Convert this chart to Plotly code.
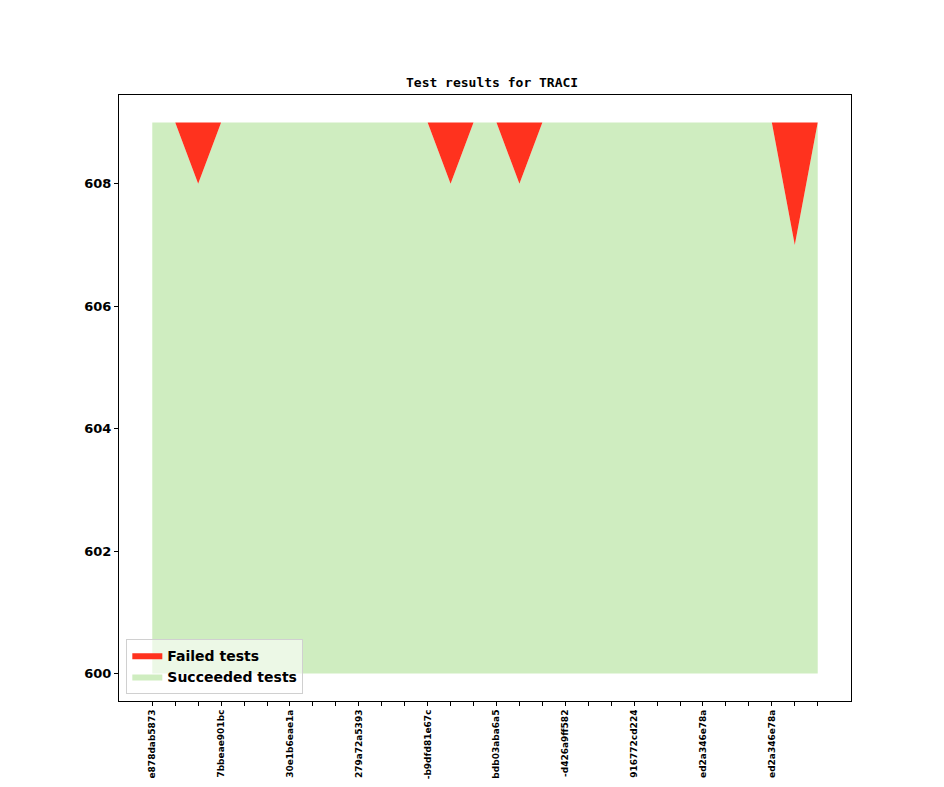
import plotly.graph_objects as go

commits = list(range(30))
succeeded = [609, 609, 608, 609, 609, 609, 609, 609, 609, 609,
             609, 609, 609, 608, 609, 609, 608, 609, 609, 609,
             609, 609, 609, 609, 609, 609, 609, 609, 607, 609]
failed = [0, 0, 1, 0, 0, 0, 0, 0, 0, 0,
          0, 0, 0, 1, 0, 0, 1, 0, 0, 0,
          0, 0, 0, 0, 0, 0, 0, 0, 2, 0]
baseline = 600
tick_labels = ['e878dab5873', '', '', '7bbeae901bc', '', '', '30e1b6eae1a', '', '',
               '279a72a5393', '', '', '-b9dfd81e67c', '', '', 'bdb03aba6a5', '', '',
               '-d426a9ff582', '', '', '916772cd224', '', '', 'ed2a346e78a', '', '',
               'ed2a346e78a', '', '']

total = [s + f for s, f in zip(succeeded, failed)]

fig = go.Figure()
fig.add_trace(go.Scatter(x=commits, y=[baseline] * len(commits), mode='lines',
                         line=dict(width=0), showlegend=False, hoverinfo='skip'))
fig.add_trace(go.Scatter(x=commits, y=succeeded, mode='lines', fill='tonexty',
                         fillcolor='#cfedc0', line=dict(width=0),
                         name='Succeeded tests', legendrank=2))
fig.add_trace(go.Scatter(x=commits, y=total, mode='lines', fill='tonexty',
                         fillcolor='#ff321e', line=dict(width=0),
                         name='Failed tests', legendrank=1))

axis_style = dict(showline=True, linecolor='black', linewidth=1, mirror=True,
                  ticks='outside', ticklen=4, tickcolor='black',
                  showgrid=False, zeroline=False)

# the page body adds ~7px offset, so margins are shifted up/left
fig.update_layout(
    width=944, height=787,
    paper_bgcolor='white', plot_bgcolor='white',
    margin=dict(l=111, r=101, t=87, b=94, autoexpand=False),
    title=dict(text='Test results for TRACI', x=0.5128, xanchor='center',
               y=0.905, yanchor='middle',
               font=dict(family='DejaVu Sans Mono', size=13, color='black', weight='bold')),
    font=dict(family='DejaVu Sans', color='black'),
    xaxis=dict(range=[-1.45, 30.45], tickvals=commits, ticktext=tick_labels,
               tickangle=-90, automargin=False,
               tickfont=dict(family='DejaVu Sans', size=9, weight='bold'),
               **axis_style),
    yaxis=dict(range=[599.55, 609.45], tickvals=[600, 602, 604, 606, 608],
               automargin=False,
               tickfont=dict(family='DejaVu Sans', size=13, weight='bold'),
               **axis_style),
    legend=dict(x=0.01, y=0.012, xanchor='left', yanchor='bottom',
                traceorder='normal',
                bgcolor='rgba(255,255,255,0.6)', bordercolor='#d0d0d0', borderwidth=1,
                font=dict(family='DejaVu Sans', size=14, weight='bold'),
                tracegroupgap=0),
    showlegend=True,
)

fig.write_html("out.html")
